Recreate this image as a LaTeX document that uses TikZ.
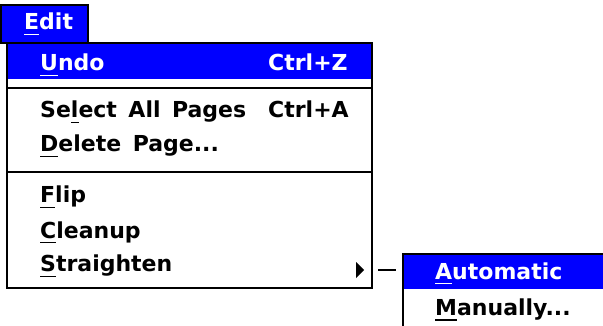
\documentclass[tikz,border=0pt]{standalone}
\usepackage{fontspec}
\setmainfont[WordSpace=1.5]{DejaVu Sans}
\usetikzlibrary{calc}
\definecolor{menublue}{RGB}{0,0,255}
\newcommand\hotkey[1]{\setbox0\hbox{#1}\rlap{\rule[-5.5pt]{\wd0}{1.5pt}}#1}

\begin{document}
\begin{tikzpicture}[x=1pt,y=-1pt,
		item/.style={anchor=base west,inner sep=0pt,font=\bfseries\fontsize{22}{26}\selectfont},
		hilite/.style={item,text=white},
		frame/.style={draw=black,line width=1.5pt}]

		\useasboundingbox (0,0) rectangle (603,326);

		\coordinate(EditA) at (1,5);
		\coordinate(EditB) at (88,43);
		\coordinate(MenuA) at (7,43);
		\coordinate(MenuB) at (372,288);
		\coordinate(SubA) at (403,254);
		\coordinate(SubB) at (612,334);
		\coordinate(tip) at (378,270);
		\coordinate(sub in) at (396,270);

		\fill[menublue] (EditA) rectangle (EditB);
		\draw[frame] (EditA) rectangle (EditB);
		\node[hilite] (edit) at (24,30) {\hotkey{E}dit};

		\fill[white] (MenuA) rectangle (MenuB);
		\fill[menublue] (8,44) rectangle (371,79);
		\draw[frame] (MenuA) rectangle (MenuB);
		\draw[line width=1.5pt] (7,88) -- (372,88);
		\draw[line width=1.5pt] (7,172) -- (372,172);

		\node[hilite] (undo) at (40,71) {\hotkey{U}ndo};
		\node[hilite] (undo key) at (268,71) {Ctrl+Z};
		\node[item] (select) at (40,118) {Se\hotkey{l}ect All Pages};
		\node[item] (select key) at (268,118) {Ctrl+A};
		\node[item] (delete) at (40,152) {\hotkey{D}elete Page...};
		\node[item] (flip) at (40,203) {\hotkey{F}lip};
		\node[item] (cleanup) at (40,238) {\hotkey{C}leanup};
		\node[item] (straighten) at (40,272) {\hotkey{S}traighten};
		\fill (356,262) -- (364,270) -- (356,278) -- cycle;

		\draw[line width=2pt] (tip) -- (sub in);

		\fill[white] (SubA) rectangle (SubB);
		\fill[menublue] (SubA) rectangle (612,289);
		\draw[frame] (403,334) -- (SubA) -- (612,254);
		\node[hilite] (automatic) at (435,279) {\hotkey{A}utomatic};
		\node[item] (manually) at (435,315) {\hotkey{M}anually...};

	\end{tikzpicture}
\end{document}
